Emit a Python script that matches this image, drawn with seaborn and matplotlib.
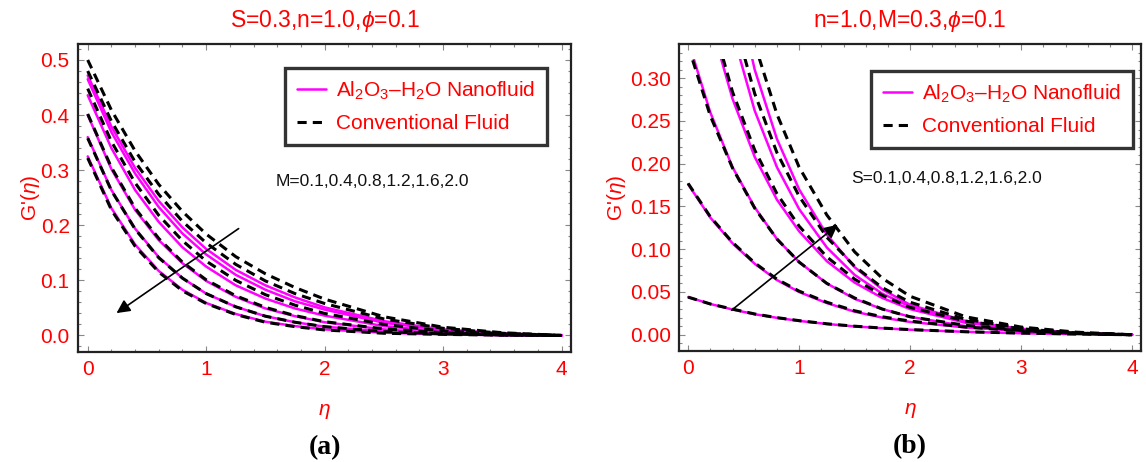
import numpy as np
import pandas as pd
import matplotlib
matplotlib.use("Agg")
import matplotlib.pyplot as plt
import seaborn as sns
from matplotlib.lines import Line2D
from matplotlib.patches import Rectangle
from matplotlib.ticker import MultipleLocator

# ---------------- data ----------------
eta = [0, 0.2, 0.4, 0.6, 0.8, 1.0, 1.25, 1.5, 1.75, 2.0, 2.5, 3.0, 3.5, 4.0]

M_values = [0.1, 0.4, 0.8, 1.2, 1.6, 2.0]
S_values = [0.1, 0.4, 0.8, 1.2, 1.6, 2.0]

# panel (a): G'(eta) for M = 0.1 ... 2.0
a_nano = [
    [0.472, 0.379, 0.304, 0.244, 0.196, 0.157, 0.119, 0.091, 0.069, 0.051, 0.026, 0.011, 0.004, 0.0],
    [0.465, 0.369, 0.294, 0.233, 0.185, 0.147, 0.110, 0.083, 0.062, 0.047, 0.023, 0.010, 0.003, 0.0],
    [0.436, 0.340, 0.264, 0.206, 0.160, 0.125, 0.091, 0.067, 0.049, 0.036, 0.017, 0.007, 0.002, 0.0],
    [0.400, 0.302, 0.228, 0.173, 0.131, 0.099, 0.070, 0.049, 0.035, 0.024, 0.011, 0.004, 0.001, 0.0],
    [0.360, 0.264, 0.194, 0.142, 0.104, 0.076, 0.052, 0.035, 0.024, 0.016, 0.007, 0.003, 0.001, 0.0],
    [0.325, 0.231, 0.165, 0.117, 0.083, 0.059, 0.039, 0.025, 0.017, 0.011, 0.005, 0.002, 0.0005, 0.0],
]
a_conv = [
    [0.500, 0.409, 0.335, 0.274, 0.225, 0.184, 0.143, 0.112, 0.087, 0.066, 0.034, 0.015, 0.005, 0.0],
    [0.480, 0.389, 0.315, 0.256, 0.207, 0.168, 0.129, 0.099, 0.076, 0.058, 0.030, 0.013, 0.004, 0.0],
    [0.448, 0.352, 0.277, 0.218, 0.172, 0.135, 0.100, 0.074, 0.055, 0.040, 0.020, 0.008, 0.003, 0.0],
    [0.402, 0.305, 0.231, 0.176, 0.133, 0.101, 0.072, 0.051, 0.036, 0.025, 0.012, 0.005, 0.001, 0.0],
    [0.358, 0.263, 0.193, 0.141, 0.104, 0.076, 0.052, 0.035, 0.024, 0.016, 0.007, 0.003, 0.001, 0.0],
    [0.322, 0.228, 0.162, 0.115, 0.081, 0.058, 0.038, 0.024, 0.016, 0.010, 0.004, 0.002, 0.0005, 0.0],
]

# panel (b): G'(eta) for S = 0.1 ... 2.0
b_nano = [
    [0.044, 0.036, 0.0295, 0.024, 0.0198, 0.0162, 0.0126, 0.0098, 0.0076, 0.0059, 0.0034, 0.0018, 0.0007, 0.0],
    [0.176, 0.137, 0.107, 0.083, 0.064, 0.050, 0.037, 0.027, 0.020, 0.015, 0.0085, 0.0045, 0.0018, 0.0],
    [0.344, 0.260, 0.196, 0.149, 0.112, 0.085, 0.060, 0.042, 0.030, 0.021, 0.010, 0.004, 0.0015, 0.0],
    [0.487, 0.367, 0.276, 0.208, 0.158, 0.121, 0.086, 0.061, 0.043, 0.030, 0.014, 0.006, 0.002, 0.0],
    [0.658, 0.483, 0.354, 0.262, 0.196, 0.147, 0.102, 0.070, 0.048, 0.033, 0.015, 0.006, 0.002, 0.0],
    [0.820, 0.591, 0.425, 0.310, 0.229, 0.170, 0.117, 0.079, 0.053, 0.035, 0.016, 0.007, 0.002, 0.0],
]
b_conv = [
    [0.044, 0.036, 0.030, 0.0243, 0.020, 0.0165, 0.0128, 0.010, 0.0078, 0.006, 0.0035, 0.0019, 0.0008, 0.0],
    [0.177, 0.138, 0.108, 0.084, 0.065, 0.051, 0.038, 0.028, 0.021, 0.016, 0.009, 0.0048, 0.0019, 0.0],
    [0.338, 0.256, 0.195, 0.148, 0.112, 0.085, 0.060, 0.043, 0.030, 0.021, 0.011, 0.005, 0.0015, 0.0],
    [0.498, 0.376, 0.284, 0.216, 0.165, 0.127, 0.091, 0.065, 0.046, 0.032, 0.016, 0.007, 0.002, 0.0],
    [0.683, 0.506, 0.375, 0.282, 0.213, 0.162, 0.114, 0.080, 0.055, 0.038, 0.018, 0.008, 0.002, 0.0],
    [0.830, 0.614, 0.454, 0.340, 0.258, 0.196, 0.140, 0.097, 0.066, 0.045, 0.021, 0.009, 0.003, 0.0],
]

titles = ["S=0.3,n=1.0,$\\phi$=0.1", "n=1.0,M=0.3,$\\phi$=0.1"]
param_labels = ["M=0.1,0.4,0.8,1.2,1.6,2.0", "S=0.1,0.4,0.8,1.2,1.6,2.0"]
legend_labels = ["Al$_2$O$_3$\u2013H$_2$O Nanofluid", "Conventional Fluid"]
panel_tags = ["(a)", "(b)"]

# ---------------- style ----------------
sns.set_theme(style="white")
plt.rcParams["font.family"] = ["Liberation Sans", "DejaVu Sans"]
plt.rcParams["mathtext.fontset"] = "custom"
plt.rcParams["mathtext.rm"] = "Liberation Sans"
plt.rcParams["mathtext.it"] = "Liberation Sans:italic"
plt.rcParams["mathtext.bf"] = "Liberation Sans:bold"

RED = "#ff0000"
MAG = "#ff00ff"
FS = 15
DASH = (0, (3.0, 2.0))

fig = plt.figure(figsize=(11.46, 4.62), dpi=100)
ax1 = fig.add_axes([78 / 1146, 110 / 462, 493 / 1146, 308 / 462])
ax2 = fig.add_axes([679 / 1146, 111 / 462, 462 / 1146, 307 / 462])


def make_long(nano, conv, params):
    rows = []
    for p, n_vals, c_vals in zip(params, nano, conv):
        for e, v in zip(eta, n_vals):
            rows.append(dict(eta=e, G=v, curve=f"n{p}", fluid="nano"))
        for e, v in zip(eta, c_vals):
            rows.append(dict(eta=e, G=v, curve=f"c{p}", fluid="conv"))
    return pd.DataFrame(rows)


def draw(ax, df):
    for fluid, color, ls, lw in [("nano", MAG, "-", 1.8), ("conv", "black", DASH, 2.2)]:
        sub = df[df.fluid == fluid]
        for cname, g in sub.groupby("curve", sort=False):
            sns.lineplot(data=g, x="eta", y="G", ax=ax, color=color, lw=lw,
                         linestyle=ls, legend=False, estimator=None, sort=False)


def style_axes(ax, ylim, ymajor, yminor, yfmt, ylabelpad):
    ax.set_xlim(-0.082, 4.08)
    ax.set_ylim(*ylim)
    ax.xaxis.set_major_locator(MultipleLocator(1))
    ax.xaxis.set_minor_locator(MultipleLocator(0.2))
    ax.yaxis.set_major_locator(MultipleLocator(ymajor))
    ax.yaxis.set_minor_locator(MultipleLocator(yminor))
    ax.yaxis.set_major_formatter(plt.FormatStrFormatter(yfmt))
    ax.tick_params(which="both", direction="in", top=True, right=True,
                   bottom=True, left=True, color="#888888", labelcolor=RED,
                   labelsize=FS, width=0.8)
    ax.tick_params(which="major", length=4, pad=6)
    ax.tick_params(which="minor", length=2)
    for sp in ax.spines.values():
        sp.set_color("#222222")
        sp.set_linewidth(1.6)
    ax.set_xlabel("$\\eta$", color=RED, fontsize=FS, labelpad=16)
    ax.set_ylabel("G'($\\eta$)", color=RED, fontsize=FS, labelpad=ylabelpad)


df_a = make_long(a_nano, a_conv, M_values)
df_b = make_long(b_nano, b_conv, S_values)

draw(ax1, df_a)
draw(ax2, df_b)

style_axes(ax1, (-0.03, 0.529), 0.1, 0.02, "%.1f", -1)
style_axes(ax2, (-0.019, 0.340), 0.05, 0.01, "%.2f", 1)

# Mathematica plot range clips panel (b) curves at the top
clip_rect = Rectangle((-0.5, -0.1), 5.0, 0.1 + 0.3227, transform=ax2.transData)
for ln in ax2.lines:
    ln.set_clip_path(clip_rect)

for ax, title, tag in zip([ax1, ax2], titles, panel_tags):
    ax.set_title(title, color=RED, fontsize=16.5, pad=12)
    ax.text(0.5, -0.31, tag, transform=ax.transAxes, ha="center", va="center",
            fontsize=20, fontweight="bold", family="Liberation Serif", color="black")

# legends
handles = [Line2D([], [], color=MAG, lw=1.8),
           Line2D([], [], color="black", lw=2.2, linestyle=DASH)]
for ax, anchor in [(ax1, (0.42, 0.922)), (ax2, (0.416, 0.912))]:
    leg = ax.legend(handles, legend_labels, loc="upper left", bbox_to_anchor=anchor,
                    fontsize=FS, labelcolor=RED, frameon=True, fancybox=False,
                    handlelength=1.4, handletextpad=0.5, borderpad=0.55,
                    labelspacing=0.6, borderaxespad=0)
    leg.get_frame().set_edgecolor("black")
    leg.get_frame().set_linewidth(2.4)

# parameter annotations
ax1.text(1.585, 0.28, param_labels[0], fontsize=12.5, color="#111111", ha="left", va="center")
ax2.text(1.47, 0.183, param_labels[1], fontsize=12.5, color="#111111", ha="left", va="center")

# arrows
arrow_kw = dict(arrowstyle="-|>", color="black", lw=1.2, mutation_scale=20, shrinkA=0, shrinkB=0)
ax1.annotate("", xy=(0.243, 0.0406), xytext=(1.274, 0.194), arrowprops=arrow_kw)
ax2.annotate("", xy=(1.348, 0.1286), xytext=(0.392, 0.0287), arrowprops=arrow_kw)

fig.savefig("out.png", dpi=100)
